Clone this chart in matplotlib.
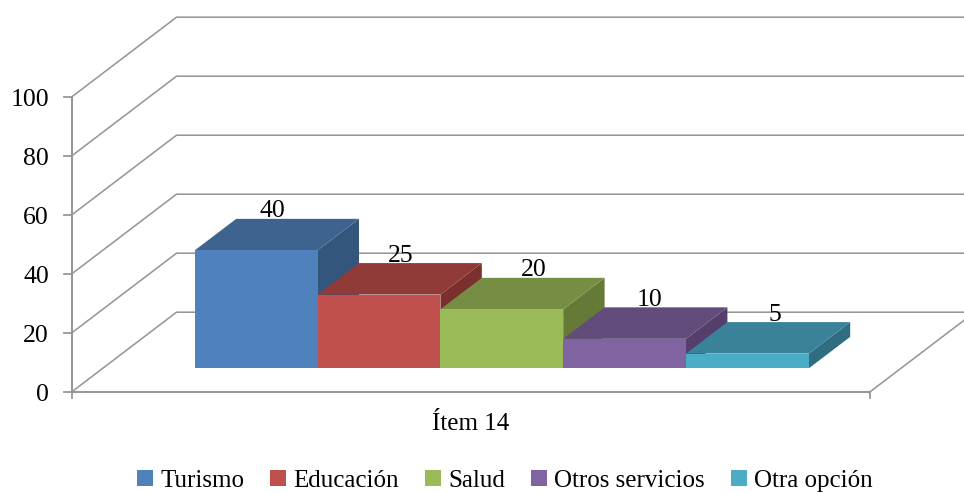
#!/usr/bin/env python3
"""Faux 3D column chart (Item 14) drawn on one flat axes, Excel style."""
import matplotlib
matplotlib.use("Agg")
import matplotlib.pyplot as plt
from matplotlib.patches import Polygon, Rectangle

CATEGORY = "Ítem 14"
SERIES = ["Turismo", "Educación", "Salud", "Otros servicios", "Otra opción"]
VALUES = [40, 25, 20, 10, 5]
Y_TICKS = [0, 20, 40, 60, 80, 100]

FRONT = ["#4F81BD", "#C0504D", "#9BBB59", "#8064A2", "#4BACC6"]
TOP = ["#3F638F", "#913B39", "#768E44", "#614C7B", "#39829A"]
SIDE = ["#34557C", "#7B302E", "#647A36", "#543F6C", "#2F6E80"]
GRID = "#979797"
FONT = ["Liberation Serif", "DejaVu Serif"]

W, H = 964, 493
PX_X = 122.8   # pixels per bar width
PX_Y = 2.95    # pixels per value unit
X0, Y0 = 72, 391.7  # pixel position of the front left corner
WALL_DX, WALL_DY = 104.5 / PX_X, 79.5 / PX_Y  # floor depth
N_SLOTS = 6.5
GAP = 0.75
D_FRONT, D_BACK = 0.294, 0.69
# sideways nudge of each data label from the bar centre, pixels
LABEL_NUDGE = [16, 22, 32, 25, 27]


def proj(x, v, d=0.0):
    return (x + d * WALL_DX, v + d * WALL_DY)


def main():
    fig = plt.figure(figsize=(W / 100, H / 100), dpi=100)
    ax = fig.add_axes([0, 0, 1, 1])
    ax.set_xlim(-X0 / PX_X, (W - X0) / PX_X)
    ax.set_ylim(-(H - Y0) / PX_Y, Y0 / PX_Y)
    ax.axis("off")

    line = dict(color=GRID, lw=1.15, solid_joinstyle="miter", zorder=1)

    # walls: slanted side gridlines + back gridlines
    for t in Y_TICKS:
        pts = [proj(0, t), proj(0, t, 1), proj(N_SLOTS, t, 1)]
        ax.plot(*zip(*pts), **line)
    ax.plot(*zip(proj(N_SLOTS, 0), proj(N_SLOTS, 0, 1)), **line)

    # front axes and ticks
    ax.plot([0, 0], [0, Y_TICKS[-1]], color=GRID, lw=1.5, zorder=2)
    ax.plot([0, N_SLOTS], [0, 0], color=GRID, lw=1.5, zorder=2)
    for t in Y_TICKS:
        ax.plot([-8 / PX_X, 0], [t, t], color=GRID, lw=1.3, zorder=2)
        ax.text(-23 / PX_X, t - 1, str(t), ha="right", va="center",
                family=FONT, fontsize=18.5, color="black")
    for x in (0, N_SLOTS):
        ax.plot([x, x], [0, -6 / PX_Y], color=GRID, lw=1.3, zorder=2)

    ax.text(N_SLOTS / 2, -32 / PX_Y, CATEGORY, ha="center", va="center",
            family=FONT, fontsize=18, color="black")

    # columns, left to right so later ones cover the earlier side faces
    for i, v in enumerate(VALUES):
        x1, x2 = GAP + i, GAP + i + 1
        z = 5 + i
        front = [proj(x1, 0, D_FRONT), proj(x2, 0, D_FRONT),
                 proj(x2, v, D_FRONT), proj(x1, v, D_FRONT)]
        top = [proj(x1, v, D_FRONT), proj(x2, v, D_FRONT),
               proj(x2, v, D_BACK), proj(x1, v, D_BACK)]
        side = [proj(x2, 0, D_FRONT), proj(x2, 0, D_BACK),
                proj(x2, v, D_BACK), proj(x2, v, D_FRONT)]
        ax.add_patch(Polygon(side, closed=True, fc=SIDE[i], ec="none", zorder=z))
        ax.add_patch(Polygon(top, closed=True, fc=TOP[i], ec="none", zorder=z))
        ax.add_patch(Polygon(front, closed=True, fc=FRONT[i], ec="none", zorder=z))

        # label sits behind the column top, as in the original
        lx, ly = proj((x1 + x2) / 2 + LABEL_NUDGE[i] / PX_X, v + 13.2, D_FRONT)
        ax.text(lx, ly, str(v), ha="center", va="center",
                family=FONT, fontsize=18.5, color="black", zorder=3)

    handles = [Rectangle((0, 0), 1, 1, fc=c, ec="none") for c in FRONT]
    ax.legend(handles, SERIES, loc="center", bbox_to_anchor=(505 / W, 1 - 481 / H),
              ncol=5, frameon=False, handlelength=0.62, handleheight=0.62,
              handletextpad=0.3, columnspacing=1.05, borderpad=0,
              prop={"family": FONT, "size": 18})

    fig.savefig("out.png", dpi=100)
    plt.close(fig)


if __name__ == "__main__":
    main()
